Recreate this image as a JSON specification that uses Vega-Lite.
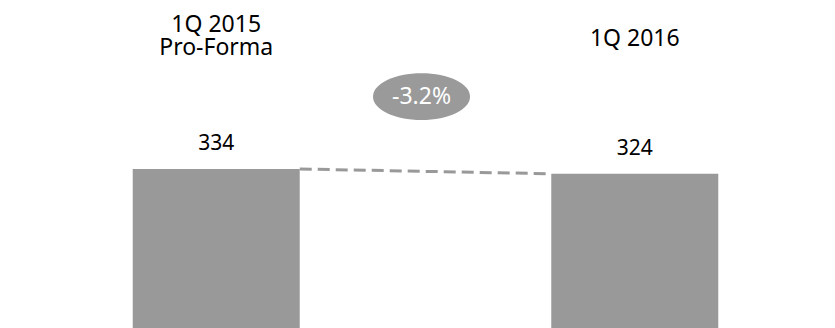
{
  "$schema": "https://vega.github.io/schema/vega-lite/v6.json",
  "width": 835,
  "height": 328,
  "autosize": {"type": "none"},
  "padding": {"left": 8, "top": 0, "right": 0, "bottom": 0},
  "background": "white",
  "config": {"view": {"stroke": null}, "font": "Noto Sans"},
  "datasets": {
    "bars": [
      {"period": "1Q 2015", "value": 334},
      {"period": "1Q 2016", "value": 324}
    ],
    "headers": [
      {"period": "1Q 2015", "header": "1Q 2015", "hy": 622},
      {"period": "1Q 2015", "header": "Pro-Forma", "hy": 573},
      {"period": "1Q 2016", "header": "1Q 2016", "hy": 593}
    ],
    "link": [
      {"from": "1Q 2015", "to": "1Q 2016", "v1": 334, "v2": 324}
    ],
    "change": [
      {"label": "-3.2%", "pos": 486}
    ]
  },
  "encoding": {},
  "layer": [
    {
      "data": {"name": "bars"},
      "mark": {"type": "bar", "color": "#999999"},
      "encoding": {
        "x": {"field": "period", "type": "nominal", "axis": null,
              "scale": {"paddingInner": 0.601, "paddingOuter": 0.298}},
        "y": {"field": "value", "type": "quantitative", "axis": null,
              "scale": {"domain": [0, 689], "nice": false, "zero": true}}
      }
    },
    {
      "data": {"name": "bars"},
      "mark": {"type": "text", "fontSize": 21, "color": "#000000", "baseline": "alphabetic", "dy": -19},
      "encoding": {
        "x": {"field": "period", "type": "nominal"},
        "y": {"field": "value", "type": "quantitative"},
        "text": {"field": "value", "type": "quantitative"}
      }
    },
    {
      "data": {"name": "headers"},
      "mark": {"type": "text", "fontSize": 23, "color": "#000000", "baseline": "alphabetic"},
      "encoding": {
        "x": {"field": "period", "type": "nominal"},
        "y": {"field": "hy", "type": "quantitative"},
        "text": {"field": "header", "type": "nominal"}
      }
    },
    {
      "data": {"name": "link"},
      "mark": {"type": "rule", "color": "#999999", "strokeWidth": 3, "strokeDash": [12, 6]},
      "encoding": {
        "x": {"field": "from", "type": "nominal", "bandPosition": 1},
        "x2": {"field": "to", "bandPosition": 0},
        "y": {"field": "v1", "type": "quantitative"},
        "y2": {"field": "v2"}
      }
    },
    {
      "data": {"name": "change"},
      "mark": {"type": "point", "filled": true, "color": "#9a9a9a", "opacity": 1,
               "shape": "M-1,0 A1,0.48 0 1,1 1,0 A1,0.48 0 1,1 -1,0", "size": 9409, "xOffset": -4},
      "encoding": {
        "y": {"field": "pos", "type": "quantitative"}
      }
    },
    {
      "data": {"name": "change"},
      "mark": {"type": "text", "fontSize": 23, "color": "#ffffff", "baseline": "middle", "xOffset": -4},
      "encoding": {
        "y": {"field": "pos", "type": "quantitative"},
        "text": {"field": "label", "type": "nominal"}
      }
    }
  ]
}
